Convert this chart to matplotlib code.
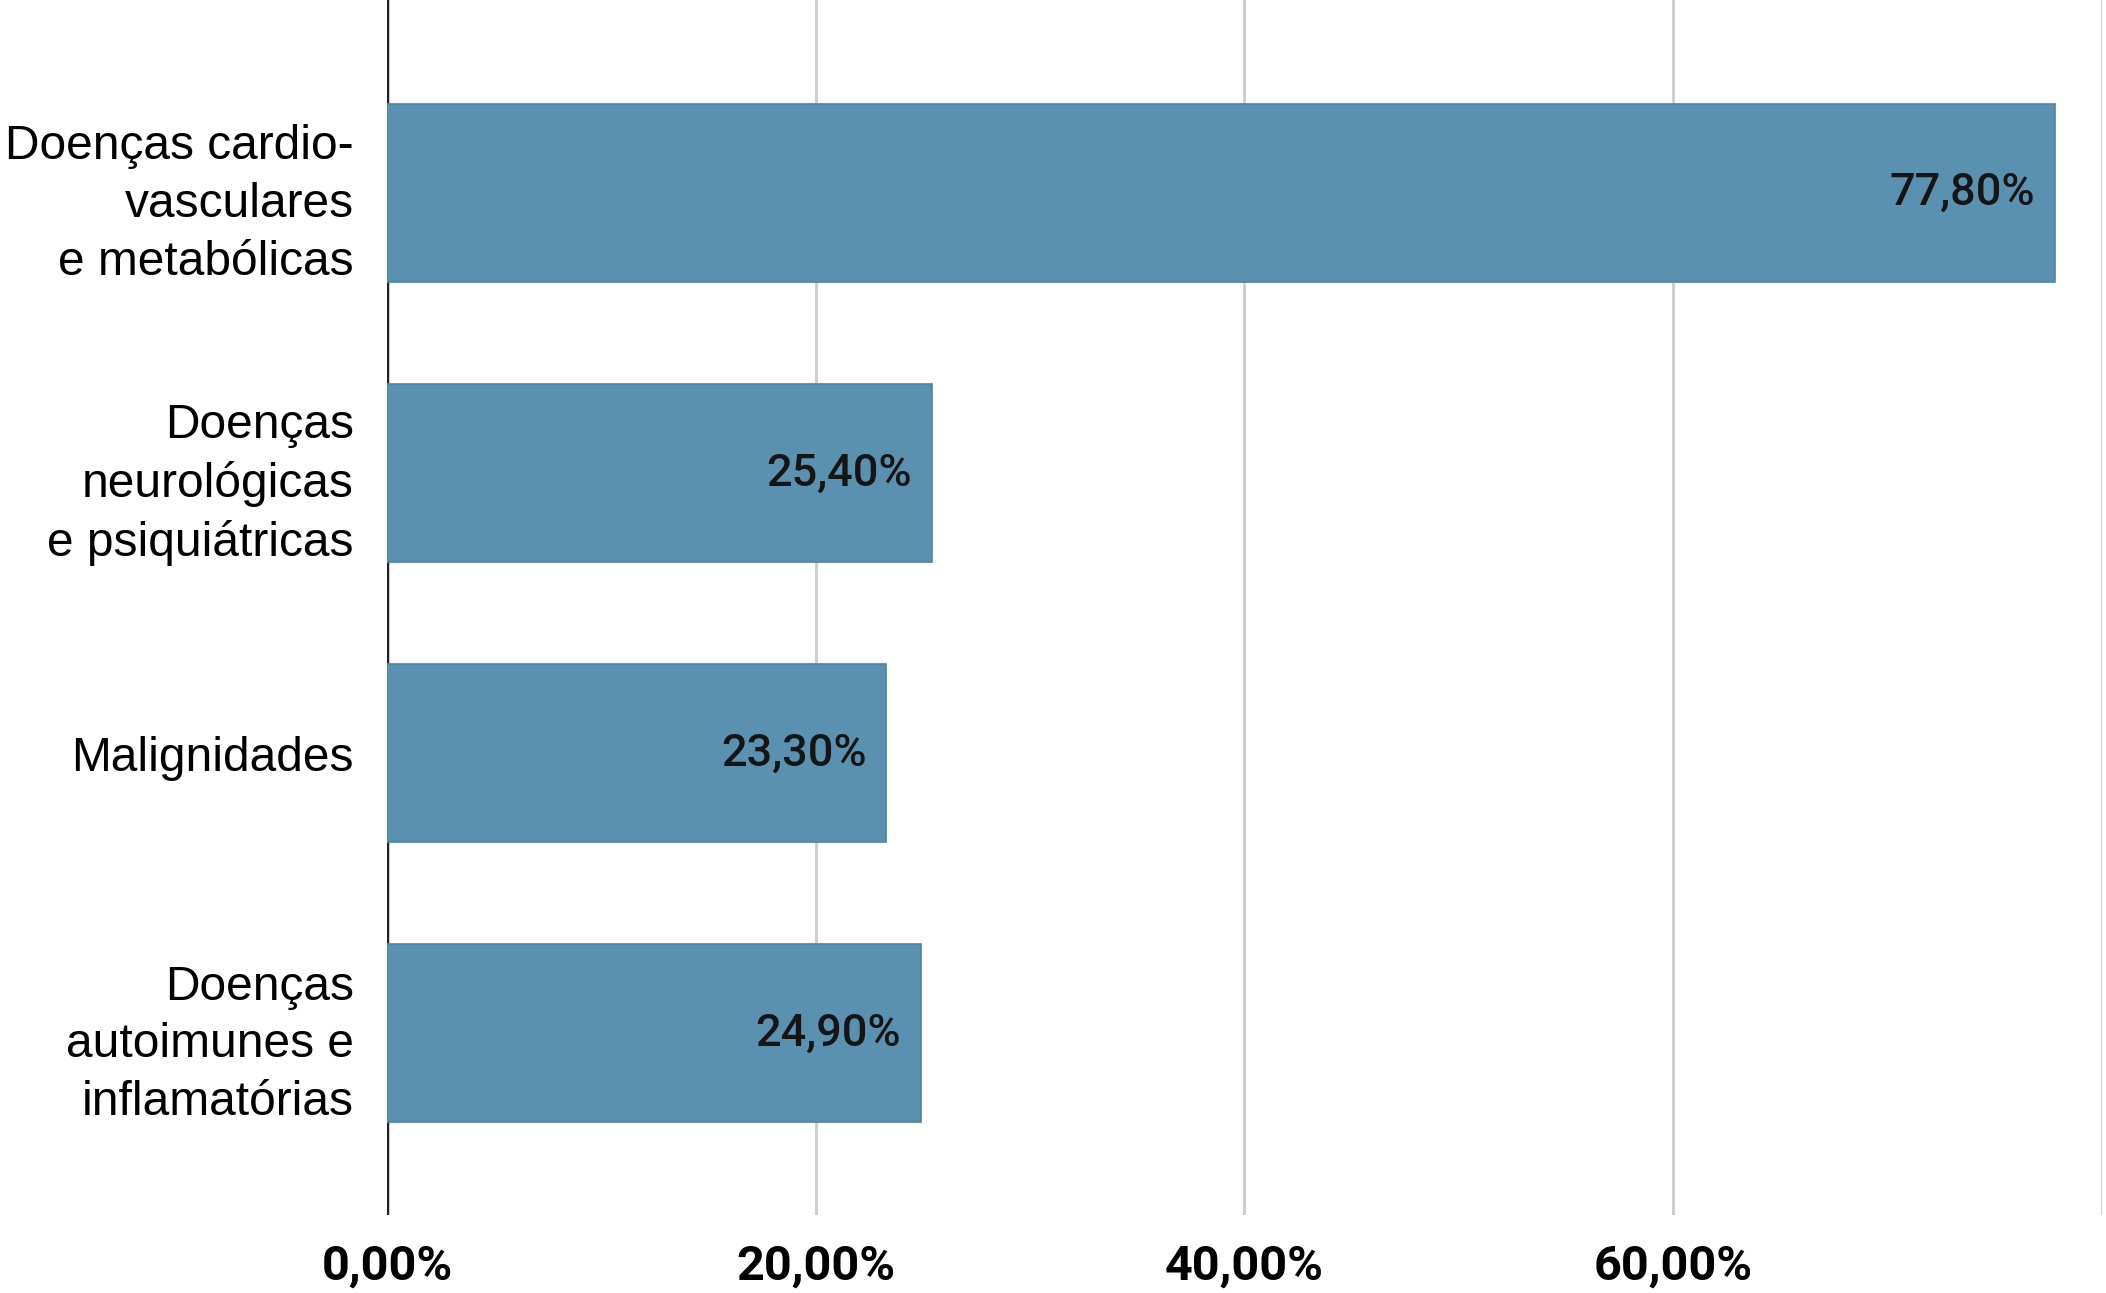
import matplotlib.pyplot as plt
from matplotlib.ticker import FuncFormatter

# dados
categorias = ['Doenças cardio-\nvasculares\ne metabólicas',
              'Doenças\nneurológicas\ne psiquiátricas',
              'Malignidades',
              'Doenças\nautoimunes e\ninflamatórias']
valores = [77.8, 25.4, 23.3, 24.9]
ticks_x = [0, 20, 40, 60, 80]

cor_barra = '#5b91b0'

fig = plt.figure(figsize=(21.06, 12.93), dpi=100)
ax = fig.add_axes([0.1838, 0.060, 0.8142, 0.940])

pos = list(range(len(categorias)))
ax.barh(pos, valores, height=0.635, color=cor_barra, edgecolor='#4d84a4',
        linewidth=1.2, zorder=3)

# rótulos de valor dentro das barras
for y, v in zip(pos, valores):
    txt = f'{v:.2f}%'.replace('.', ',')
    ax.annotate(txt, xy=(v, y), xytext=(-20, 0), textcoords='offset pixels',
                ha='right', va='center', fontsize=32.5, family='Roboto',
                fontweight='medium', color='#151515', zorder=4)

ax.set_xlim(0, 80)
ax.set_ylim(3.65, -0.69)
ax.set_xticks(ticks_x)
ax.xaxis.set_major_formatter(FuncFormatter(
    lambda x, p: '' if x >= 80 else f'{x:.2f}%'.replace('.', ',')))
ax.set_yticks(pos)
ax.set_yticklabels(categorias, fontsize=34.5, family='Liberation Sans',
                   linespacing=1.36)

for lbl in ax.get_xticklabels():
    lbl.set_family('Roboto')
    lbl.set_fontweight('bold')
    lbl.set_fontsize(35)

ax.tick_params(axis='both', length=0)
ax.tick_params(axis='x', pad=20)
ax.tick_params(axis='y', pad=24)

ax.grid(axis='x', color='#cccccc', linewidth=2)
ax.axvline(0, color='#222222', linewidth=2.5, zorder=2.7)
for s in ax.spines.values():
    s.set_visible(False)

fig.savefig('out.png', dpi=100)
